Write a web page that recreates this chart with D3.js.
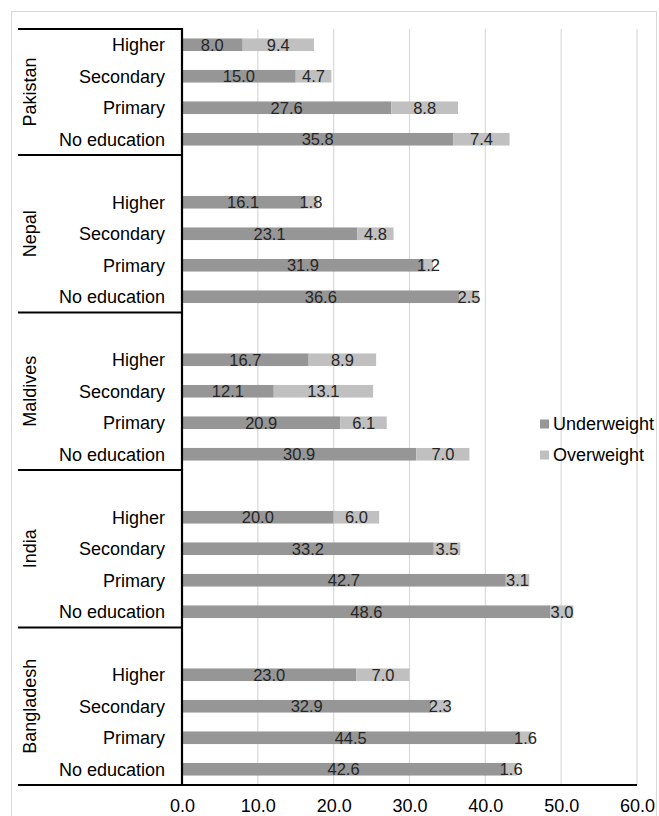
<!DOCTYPE html>
<html><head><meta charset="utf-8">
<script src="https://cdn.jsdelivr.net/npm/d3@7"></script>
<style>body{margin:0;background:#fff}svg{display:block;font-family:"Liberation Sans",Arial,sans-serif}</style>
</head><body><svg id="c" width="659" height="816"></svg>
<script>
const countries = ["Pakistan","Nepal","Maldives","India","Bangladesh"];
const levels = ["Higher","Secondary","Primary","No education"];
const underweight = {
  Pakistan:[8.0,15.0,27.6,35.8],
  Nepal:[16.1,23.1,31.9,36.6],
  Maldives:[16.7,12.1,20.9,30.9],
  India:[20.0,33.2,42.7,48.6],
  Bangladesh:[23.0,32.9,44.5,42.6]
};
const overweight = {
  Pakistan:[9.4,4.7,8.8,7.4],
  Nepal:[1.8,4.8,1.2,2.5],
  Maldives:[8.9,13.1,6.1,7.0],
  India:[6.0,3.5,3.1,3.0],
  Bangladesh:[7.0,2.3,1.6,1.6]
};
const seriesNames = ["Underweight","Overweight"];
const colors = ["#969696","#c0c0c0"];
const xTicks = [0,10,20,30,40,50,60];

(function(){
const svg = d3.select("#c");
const pl=182, pr=637, pt=29, pb=785;

const keys=[]; const rows=[];
countries.forEach((c,ci)=>{
  if(ci>0) keys.push("gap"+ci);
  levels.forEach((l,li)=>{ keys.push(c+"|"+l); rows.push({c,l,u:underweight[c][li],o:overweight[c][li],key:c+"|"+l}); });
});
const x = d3.scaleLinear().domain([0,60]).range([pl,pr]);
const y = d3.scaleBand().domain(keys).range([pt,pb]).paddingInner(0.6).paddingOuter(0.3);
const step=y.step(), bw=y.bandwidth();
const slotTop = k => y(k) - step*0.3;

svg.append("rect").attr("x",11.5).attr("y",11.5).attr("width",645).attr("height",830)
  .attr("fill","none").attr("stroke","#d9d9d9").attr("stroke-width",1);

svg.append("g").selectAll("line").data(xTicks.filter(t=>t>0)).join("line")
  .attr("x1",d=>x(d)).attr("x2",d=>x(d)).attr("y1",pt).attr("y2",pb)
  .attr("stroke","#d9d9d9").attr("stroke-width",1.2);

const g = svg.append("g");
rows.forEach(r=>{
  const yy=y(r.key);
  g.append("rect").attr("x",x(0)).attr("y",yy).attr("width",x(r.u)-x(0)).attr("height",bw).attr("fill",colors[0]);
  g.append("rect").attr("x",x(r.u)).attr("y",yy).attr("width",x(r.u+r.o)-x(r.u)).attr("height",bw).attr("fill",colors[1]);
  g.append("text").attr("x",(x(0)+x(r.u))/2).attr("y",yy+bw/2).attr("dy","0.36em").attr("text-anchor","middle")
    .attr("font-size","16.5px").attr("fill","#262626").text(r.u.toFixed(1));
  g.append("text").attr("x",(x(r.u)+x(r.u+r.o))/2).attr("y",yy+bw/2).attr("dy","0.36em").attr("text-anchor","middle")
    .attr("font-size","16.5px").attr("fill","#262626").text(r.o.toFixed(1));
});

svg.append("g").selectAll("text").data(rows).join("text")
  .attr("x",165).attr("y",d=>y(d.key)+bw/2).attr("dy","0.36em").attr("text-anchor","end")
  .attr("font-size","18px").attr("fill","#000").text(d=>d.l);

const bounds=[pt];
countries.forEach((c,ci)=>{ if(ci>0) bounds.push(slotTop("gap"+ci)); });
bounds.push(pb);
svg.append("g").selectAll("line").data(bounds).join("line")
  .attr("x1",18).attr("x2",(d,i)=>i===bounds.length-1?pr:pl).attr("y1",d=>d).attr("y2",d=>d)
  .attr("stroke","#000").attr("stroke-width",2.2);
countries.forEach((c,ci)=>{
  const cy=(bounds[ci]+bounds[ci+1])/2;
  svg.append("text").attr("transform",`translate(30,${cy}) rotate(-90)`).attr("text-anchor","middle")
    .attr("dy","0.36em").attr("font-size","18px").attr("fill","#000").text(c);
});
svg.append("line").attr("x1",x(0)).attr("x2",x(0)).attr("y1",pt-1).attr("y2",pb).attr("stroke","#000").attr("stroke-width",2.2);

const xa = svg.append("g").attr("transform",`translate(0,${pb})`)
  .call(d3.axisBottom(x).tickValues(xTicks).tickFormat(d3.format(".1f")).tickSize(0).tickPadding(14));
xa.select(".domain").remove();
xa.selectAll("text").attr("font-size","18px").attr("fill","#000").attr("font-family","Liberation Sans, Arial, sans-serif");

const lg = svg.append("g").attr("transform","translate(540,0)");
seriesNames.forEach((s,i)=>{
  const ly=424+i*31;
  lg.append("rect").attr("x",0).attr("y",ly-4.5).attr("width",9).attr("height",9).attr("fill",colors[i]);
  lg.append("text").attr("x",13).attr("y",ly).attr("dy","0.36em").attr("font-size","18px").attr("fill","#000").text(s);
});
})();
</script></body></html>
